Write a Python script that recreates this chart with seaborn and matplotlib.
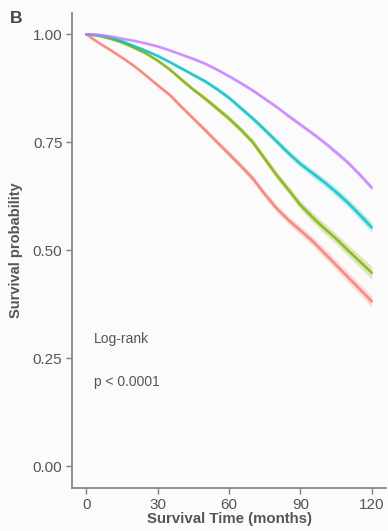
import numpy as np
import pandas as pd
import matplotlib
matplotlib.use("Agg")
import matplotlib.pyplot as plt
import seaborn as sns

months = [0, 5, 10, 15, 20, 25, 30, 35, 40, 45, 50, 55, 60,
          65, 70, 75, 80, 85, 90, 95, 100, 105, 110, 115, 120]
groups = ["G1", "G2", "G3", "G4"]
surv_g1 = [1.000, 0.981, 0.964, 0.946, 0.927, 0.905, 0.882, 0.860, 0.832, 0.805, 0.778, 0.750, 0.723,
           0.695, 0.666, 0.630, 0.597, 0.570, 0.546, 0.522, 0.494, 0.466, 0.438, 0.410, 0.382]
surv_g2 = [1.000, 0.997, 0.990, 0.981, 0.969, 0.956, 0.939, 0.919, 0.895, 0.872, 0.851, 0.828, 0.805,
           0.779, 0.750, 0.712, 0.674, 0.640, 0.605, 0.577, 0.551, 0.527, 0.500, 0.474, 0.448]
surv_g3 = [1.000, 0.998, 0.993, 0.984, 0.973, 0.962, 0.950, 0.936, 0.921, 0.906, 0.891, 0.873, 0.853,
           0.829, 0.805, 0.779, 0.752, 0.725, 0.700, 0.679, 0.658, 0.635, 0.610, 0.582, 0.553]
surv_g4 = [1.000, 0.999, 0.995, 0.990, 0.985, 0.979, 0.972, 0.963, 0.953, 0.943, 0.932, 0.918, 0.903,
           0.887, 0.870, 0.851, 0.832, 0.811, 0.791, 0.771, 0.750, 0.727, 0.703, 0.675, 0.645]
ci_g1 = [0.0, 0.001, 0.002, 0.002, 0.003, 0.003, 0.004, 0.004, 0.005, 0.005, 0.006, 0.006, 0.007,
         0.007, 0.008, 0.008, 0.009, 0.009, 0.010, 0.010, 0.011, 0.011, 0.012, 0.012, 0.013]
ci_g2 = [0.0, 0.001, 0.002, 0.002, 0.003, 0.003, 0.004, 0.004, 0.005, 0.005, 0.006, 0.006, 0.007,
         0.007, 0.008, 0.008, 0.009, 0.009, 0.010, 0.011, 0.012, 0.012, 0.013, 0.014, 0.015]
ci_g3 = [0.0, 0.001, 0.001, 0.002, 0.002, 0.003, 0.003, 0.003, 0.004, 0.004, 0.005, 0.005, 0.005,
         0.006, 0.006, 0.007, 0.007, 0.008, 0.008, 0.009, 0.009, 0.010, 0.010, 0.011, 0.011]
ci_g4 = [0.0, 0.001, 0.001, 0.001, 0.001, 0.002, 0.002, 0.002, 0.002, 0.003, 0.003, 0.003, 0.003,
         0.004, 0.004, 0.004, 0.004, 0.005, 0.005, 0.005, 0.005, 0.006, 0.006, 0.006, 0.006]
colors = ["#F8766D", "#7CAE00", "#00BFC4", "#C77CFF"]
x_ticks = [0, 30, 60, 90, 120]
y_ticks = [0.00, 0.25, 0.50, 0.75, 1.00]
y_tick_labels = ["0.00", "0.25", "0.50", "0.75", "1.00"]

survs = [surv_g1, surv_g2, surv_g3, surv_g4]
cis = [ci_g1, ci_g2, ci_g3, ci_g4]
df = pd.DataFrame({
    "month": months * 4,
    "surv": sum(survs, []),
    "ci": sum(cis, []),
    "group": [g for g in groups for _ in months],
})

sns.set_theme(style="white")
plt.rcParams["font.family"] = ["Liberation Sans", "DejaVu Sans"]

fig = plt.figure(figsize=(3.88, 5.31), dpi=100, facecolor="#fbfbfb")
ax = fig.add_axes([0.186, 0.081, 0.809, 0.895])
ax.set_facecolor("#fbfbfb")

for g, c in zip(groups, colors):
    sub = df[df["group"] == g]
    ax.fill_between(sub["month"], sub["surv"] - sub["ci"], sub["surv"] + sub["ci"],
                    color=c, alpha=0.25, linewidth=0)

sns.lineplot(data=df, x="month", y="surv", hue="group", palette=colors,
             linewidth=1.9, alpha=0.8, legend=False, ax=ax)

ax.set_xlim(-6, 126)
ax.set_ylim(-0.05, 1.05)
ax.set_xticks(x_ticks)
ax.set_yticks(y_ticks)
ax.set_yticklabels(y_tick_labels)
for s in ["top", "right"]:
    ax.spines[s].set_visible(False)
for s in ["left", "bottom"]:
    ax.spines[s].set_color("#808080")
    ax.spines[s].set_linewidth(1.2)
ax.tick_params(axis="both", which="both", length=4, width=1.0, color="#808080",
               labelcolor="#555555", labelsize=11, bottom=True, left=True, pad=3)
ax.set_xlabel("Survival Time (months)", fontsize=10.8, fontweight="bold", color="#555555", labelpad=0)
ax.set_ylabel("Survival probability", fontsize=10.5, fontweight="bold", color="#555555", labelpad=7)

ax.text(3, 0.295, "Log-rank", fontsize=10, color="#555555", va="center")
ax.text(3, 0.195, "p < 0.0001", fontsize=10, color="#555555", va="center")
fig.text(0.025, 0.965, "B", fontsize=12.5, fontweight="bold", color="#444444", va="center")

fig.savefig("out.png", dpi=100, facecolor=fig.get_facecolor())
